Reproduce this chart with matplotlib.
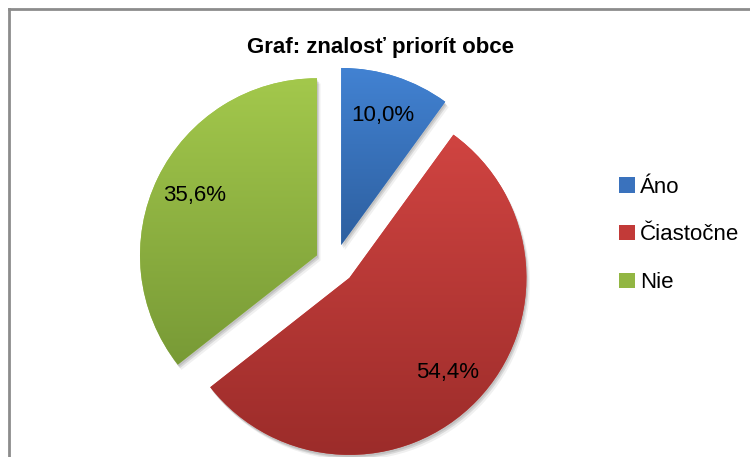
import numpy as np
import matplotlib
matplotlib.use("Agg")
import matplotlib.pyplot as plt
from matplotlib import font_manager as fm
from matplotlib.colors import LinearSegmentedColormap

categories = ["Áno", "Čiastočne", "Nie"]
values = [10.0, 54.4, 35.6]
title = "Graf: znalosť priorít obce"

top_colors = ["#4282d2", "#d04441", "#a3c84c"]
bottom_colors = ["#2d5f9f", "#9c2c2a", "#789a36"]

avail = {f.name for f in fm.fontManager.ttflist}
fam = "Liberation Sans Narrow" if "Liberation Sans Narrow" in avail else "Liberation Sans"
plt.rcParams["font.family"] = [fam, "DejaVu Sans"]

W, H = 750, 457
fig = plt.figure(figsize=(W / 100, H / 100), dpi=100)
fig.patch.set_facecolor("white")

# pixel geometry
cx, cy, R = 335, 264, 177
ax = fig.add_axes([0, 0, 1, 1])
ax.pie(values, startangle=90, counterclock=False, radius=1.0,
       explode=[0.113] * 3, colors=top_colors,
       wedgeprops=dict(linewidth=0))
ax.set_aspect("equal", adjustable="datalim")
ax.axis("off")

wedges = [p for p in ax.patches]
# shadows
for w in wedges:
    for dx, dy, a in [(0.012, -0.02, 0.10), (0.02, -0.03, 0.06), (0.006, -0.012, 0.10)]:
        sh = matplotlib.patches.Wedge((w.center[0] + dx, w.center[1] + dy), w.r, w.theta1, w.theta2,
                                      facecolor="black", alpha=a, linewidth=0, zorder=0.5)
        ax.add_patch(sh)

for i, w in enumerate(wedges):
    w.set_zorder(1)
    ext = w.get_path().get_extents()
    cmap = LinearSegmentedColormap.from_list("g%d" % i, [bottom_colors[i], top_colors[i]])
    grad = np.linspace(0, 1, 256).reshape(-1, 1)
    im = ax.imshow(grad, cmap=cmap, origin="lower", aspect="auto",
                   extent=[ext.x0, ext.x1, ext.y0, ext.y1], zorder=2)
    im.set_clip_path(w)

# labels
for t in list(ax.texts):
    t.remove()
for i, (v, w) in enumerate(zip(values, wedges)):
    mid = np.deg2rad((w.theta1 + w.theta2) / 2)
    x = w.center[0] + 0.77 * np.cos(mid)
    y = w.center[1] + 0.77 * np.sin(mid)
    ax.text(x, y, ("%.1f%%" % v).replace(".", ","), ha="center", va="center",
            fontsize=16, color="black", zorder=5)

ax.set_xlim(-cx / R, (W - cx) / R)
ax.set_ylim(-(H - cy) / R, cy / R)

fig.text(380 / W, 1 - 47 / H, title, ha="center", va="center",
         fontsize=16, fontweight="bold")

handles = [matplotlib.patches.Patch(facecolor=c) for c in
           ["#3a72bd", "#c23a38", "#92b643"]]
leg = fig.legend(handles, categories, loc="center left",
                 bbox_to_anchor=(599 / W, 1 - 235 / H), frameon=False,
                 fontsize=16, handlelength=0.7, handleheight=0.7,
                 handletextpad=0.25, labelspacing=1.2)

# border
fig.add_artist(matplotlib.lines.Line2D([8.5 / W, 8.5 / W], [0, 1 - 8.5 / H],
                                       color="#8c8c8c", lw=2, transform=fig.transFigure))
fig.add_artist(matplotlib.lines.Line2D([8.5 / W, 1], [1 - 8.5 / H, 1 - 8.5 / H],
                                       color="#8c8c8c", lw=2, transform=fig.transFigure))

fig.savefig("out.png", dpi=100)
